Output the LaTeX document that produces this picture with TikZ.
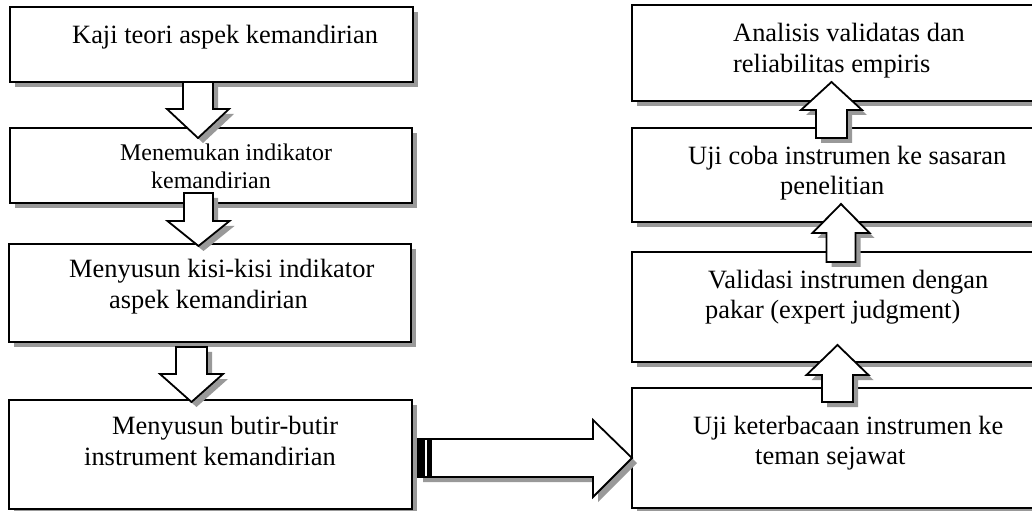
\documentclass[tikz,border=0pt]{standalone}
\usepackage{fontspec}
\setmainfont{Liberation Serif}
\definecolor{shadowgray}{HTML}{999999}
\newcommand\vblock[6]{% cx, ytail, yheadbase, ytip, shaft half, head half
  \fill[shad,shift={(5,5)}] ({#1-#5},#2) -- ({#1+#5},#2) -- ({#1+#5},#3) -- ({#1+#6},#3) -- (#1,#4) -- ({#1-#6},#3) -- ({#1-#5},#3) -- cycle;
  \draw[arr] ({#1-#5},#2) -- ({#1+#5},#2) -- ({#1+#5},#3) -- ({#1+#6},#3) -- (#1,#4) -- ({#1-#6},#3) -- ({#1-#5},#3) -- cycle;}
\newcommand\shbox[5]{% name, x1, y1, x2, y2
  \fill[shad] ({#2+5},{#3+5}) rectangle ({#4+5},{#5+5});
  \draw[box] (#2,#3) rectangle (#4,#5);
  \coordinate (#1) at ({(#2+#4)/2},{(#3+#5)/2});}
\begin{document}
\begin{tikzpicture}[x=1bp,y=-1bp,
  box/.style={draw=black,line width=1.4bp,fill=white},
  shad/.style={fill=shadowgray},
  arr/.style={draw=black,line width=1.8bp,fill=white,line join=miter},
  lbl/.style={anchor=base west,inner sep=0pt,font=\fontsize{26.5}{30}\selectfont},
  lbls/.style={anchor=base west,inner sep=0pt,font=\fontsize{24}{28}\selectfont}]
\useasboundingbox (0,0) rectangle (1032,511);
\clip (0,0) rectangle (1032,511);
% boxes
\shbox{b1}{10}{7}{413}{82}
\shbox{b2}{10}{128}{412}{203}
\shbox{b3}{9}{244}{411}{342}
\shbox{b4}{9}{400}{412}{509}
\shbox{r1}{632}{5}{1045}{101}
\shbox{r2}{632}{128}{1045}{222}
\shbox{r3}{632}{252}{1045}{362}
\shbox{r4}{632}{388}{1045}{508}
% block arrows
\vblock{198}{82}{109}{138}{15}{31}
\vblock{198.5}{193}{221}{246}{14.5}{31}
\vblock{191.5}{347}{374}{402}{15.5}{31.5}
\vblock{837.5}{402}{375}{345}{15.5}{31}
\vblock{841}{262}{233}{204}{14.5}{28.5}
\vblock{831.5}{138}{110}{82}{15.5}{30.5}
% horizontal arrow
\fill[shad,shift={(5,5)}] (418,439) -- (593,439) -- (593,420) -- (632,458) -- (593,497) -- (593,477) -- (418,477) -- cycle;
\draw[arr] (418,439) -- (593,439) -- (593,420) -- (632,458) -- (593,497) -- (593,477) -- (418,477) -- cycle;
\fill[black] (418,439) rectangle (425,477);
\fill[black] (427,439) rectangle (432,477);
% texts
\node[lbl] (t1) at (72,44) {Kaji teori aspek kemandirian};
\node[lbls] (t2a) at (120,161) {Menemukan indikator};
\node[lbls] (t2b) at (151,189) {kemandirian};
\node[lbl] (t3a) at (69,278) {Menyusun kisi-kisi indikator};
\node[lbl] (t3b) at (109,309) {aspek kemandirian};
\node[lbl] (t4a) at (112,434) {Menyusun butir-butir};
\node[lbl] (t4b) at (84,465) {instrument kemandirian};
\node[lbl] (u1a) at (733,42) {Analisis validatas dan};
\node[lbl] (u1b) at (733,73) {reliabilitas empiris};
\node[lbl] (u2a) at (688,165) {Uji coba instrumen ke sasaran};
\node[lbl] (u2b) at (780,195) {penelitian};
\node[lbl] (u3a) at (708,289) {Validasi instrumen dengan};
\node[lbl] (u3b) at (705,319) {pakar (expert judgment)};
\node[lbl] (u4a) at (693,434) {Uji keterbacaan instrumen ke};
\node[lbl] (u4b) at (755,464) {teman sejawat};
\end{tikzpicture}
\end{document}
